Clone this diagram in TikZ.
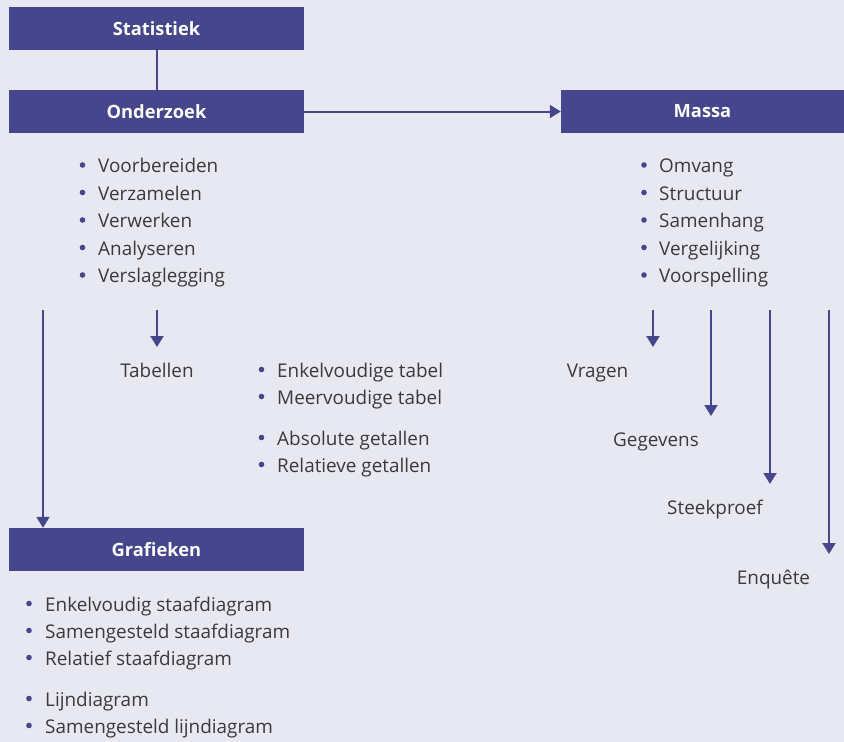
\documentclass[tikz,border=0pt]{standalone}
\usepackage{fontspec}
\setmainfont{Open Sans}
\usetikzlibrary{arrows.meta}
\usetikzlibrary{positioning}
\definecolor{boxblue}{HTML}{45468C}
\definecolor{bgpaper}{HTML}{E8E8F2}
\definecolor{txtgray}{HTML}{3A3A3A}

\begin{document}
\begin{tikzpicture}[x=1pt, y=-1pt,
    box/.style={fill=boxblue, text=white, font=\bfseries\fontsize{18.3}{22}\selectfont, minimum height=43pt, inner sep=0pt},
    item/.style={anchor=base west, text=txtgray, font=\fontsize{18.9}{22}\selectfont, inner sep=0pt},
    link/.style={draw=boxblue, line width=2pt},
    arr/.style={link, -{Triangle[length=11pt, width=13pt]}}]
        % Define the line spacing of the lists
        \def\gap{27.5}

        % Background and page size
        \fill[bgpaper] (0,0) rectangle (844,742);
        \useasboundingbox (0,0) rectangle (844,742);

        % Draw the title boxes
        \node[box, minimum width=295pt] (stat) at (156.5,28.5) {Statistiek};
        \node[box, minimum width=295pt] (ond) at (156.5,111.5) {Onderzoek};
        \node[box, minimum width=283pt] (massa) at (702.5,111.5) {Massa};
        \node[box, minimum width=295pt] (graf) at (156.5,549.5) {Grafieken};

        \draw[link] (stat) -- (ond);
        \draw[arr] (ond) -- (massa);

        % Lists under Onderzoek and Massa
        \foreach \t [count=\i] in {Voorbereiden, Verzamelen, Verwerken, Analyseren, Verslaglegging}
        {
          \fill[boxblue] (82.5,{165+\gap*(\i-1)}) circle (2.8pt);
          \node[item] (ondi\i) at (98,{172.5+\gap*(\i-1)}) {\t};
        }
        \foreach \t [count=\i] in {Omvang, Structuur, Samenhang, Vergelijking, Voorspelling}
        {
          \fill[boxblue] (644,{165+\gap*(\i-1)}) circle (2.8pt);
          \node[item] (masi\i) at (659,{172.5+\gap*(\i-1)}) {\t};
        }

        % Tabellen with its list
        \node[item, anchor=base] (tab) at (157,377) {Tabellen};
        \coordinate (t0) at (157,310);
        \draw[arr, shorten >=30pt] (t0) -- (t0 |- tab.base);
        \foreach \y/\t [count=\i] in {377/Enkelvoudige tabel, 404/Meervoudige tabel, 445/Absolute getallen, 472/Relatieve getallen}
        {
          \fill[boxblue] (261.5,\y-7.5) circle (2.8pt);
          \node[item] (tabi\i) at (277,\y) {\t};
        }

        % Long arrow down to Grafieken
        \coordinate (g0) at (43,310);
        \draw[arr] (g0) -- (g0 |- graf.north);

        % Grafieken list
        \foreach \y/\t [count=\i] in {611/Enkelvoudig staafdiagram, 638/Samengesteld staafdiagram, 665/Relatief staafdiagram, 706/Lijndiagram, 733/Samengesteld lijndiagram}
        {
          \fill[boxblue] (29,\y-7.5) circle (2.8pt);
          \node[item] (grafi\i) at (45,\y) {\t};
        }

        % Staircase of arrows under Massa
        \foreach \x/\cx/\y/\t [count=\i] in {653/597.5/377/Vragen, 711/656/446/Gegevens, 770/715/514/Steekproef, 829/773.5/584/Enquête}
        {
          \node[item, anchor=base] (lab\i) at (\cx,\y) {\t};
          \coordinate (s\i) at (\x,310);
          \draw[arr, shorten >=30pt] (s\i) -- (s\i |- lab\i.base);
        }
      \end{tikzpicture}
\end{document}
